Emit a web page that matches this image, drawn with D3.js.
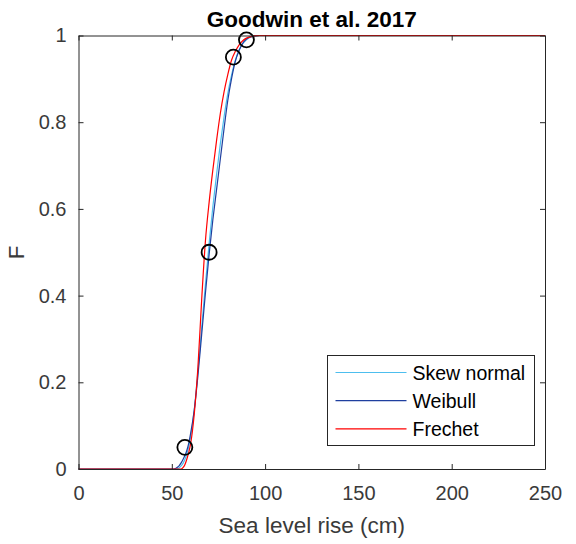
<!DOCTYPE html>
<html>
<head>
<meta charset="utf-8">
<script src="https://cdn.jsdelivr.net/npm/d3@7"></script>
<style>
  html, body { margin: 0; padding: 0; background: #fff; }
  svg { display: block; font-family: "Liberation Sans", Arial, Helvetica, sans-serif; }
</style>
</head>
<body>
<svg id="chart" width="576" height="544"></svg>
<script>
// Sea level rise grid (cm) on which the fitted CDFs are tabulated
const slr = [0, 51, 52, 53, 54, 55, 56, 57, 58, 59, 60, 62, 64, 66, 68, 70, 72, 74, 76, 78, 80, 82, 84, 86, 88, 90, 93, 97, 100, 250];

// Cumulative probability F for each fitted distribution
const skewNormal = [0, 0, 0, 0.001, 0.003, 0.007, 0.013, 0.022, 0.034, 0.05, 0.072, 0.135, 0.225, 0.325, 0.425, 0.52, 0.605, 0.68, 0.75, 0.812, 0.866, 0.908, 0.942, 0.966, 0.981, 0.99, 0.997, 1, 1, 1];
const weibull    = [0, 0, 0.001, 0.004, 0.008, 0.014, 0.022, 0.031, 0.042, 0.058, 0.08, 0.135, 0.215, 0.31, 0.405, 0.495, 0.575, 0.645, 0.715, 0.785, 0.85, 0.9, 0.94, 0.965, 0.982, 0.992, 0.998, 1, 1, 1];
const frechet    = [0, 0, 0, 0, 0, 0, 0.003, 0.01, 0.022, 0.037, 0.056, 0.125, 0.235, 0.39, 0.525, 0.615, 0.69, 0.758, 0.82, 0.87, 0.91, 0.943, 0.963, 0.978, 0.988, 0.994, 0.998, 1, 1, 1];

// Published quantiles the distributions are fitted to
const quantileSLR = [57, 70, 83, 90];
const quantileF   = [0.05, 0.5, 0.95, 0.99];

const seriesNames  = ["Skew normal", "Weibull", "Frechet"];
const seriesColors = ["#4dbeee", "#1f3f9f", "#ff0000"];
const seriesValues = [skewNormal, weibull, frechet];

const xTicks = [0, 50, 100, 150, 200, 250];
const yTicks = [0, 0.2, 0.4, 0.6, 0.8, 1];

const titleText = "Goodwin et al. 2017";
const xLabel = "Sea level rise (cm)";
const yLabel = "F";

const margin = { left: 78.5, top: 35.5, right: 31, bottom: 75 };
const W = 576, H = 544;
const svg = d3.select("#chart");

const x = d3.scaleLinear().domain([0, 250]).range([margin.left, W - margin.right]);
const y = d3.scaleLinear().domain([0, 1]).range([H - margin.bottom, margin.top]);

const axisColor = "#262626";
const labelColor = "#3a3a3a";

// Curves
const line = d3.line()
  .x(d => x(d[0]))
  .y(d => y(d[1]))
  .curve(d3.curveMonotoneX);

const plot = svg.append("g");
seriesValues.forEach((vals, i) => {
  plot.append("path")
    .datum(slr.map((s, k) => [s, vals[k]]))
    .attr("fill", "none")
    .attr("stroke", seriesColors[i])
    .attr("stroke-width", 1.2)
    .attr("d", line);
});

// Quantile markers
plot.selectAll("circle.q")
  .data(quantileSLR.map((s, k) => [s, quantileF[k]]))
  .join("circle")
  .attr("class", "q")
  .attr("cx", d => x(d[0]))
  .attr("cy", d => y(d[1]))
  .attr("r", 7.5)
  .attr("fill", "none")
  .attr("stroke", "#000")
  .attr("stroke-width", 1.8);

// Axes (box with inward ticks)
function styleAxis(g, showLabels) {
  g.select(".domain").attr("stroke", axisColor).attr("stroke-width", 1);
  g.selectAll(".tick line").attr("stroke", axisColor).attr("stroke-width", 1);
  g.selectAll(".tick text")
    .attr("fill", labelColor)
    .style("font-size", "20px")
    .style("font-family", "'Liberation Sans', Arial, Helvetica, sans-serif");
  if (!showLabels) g.selectAll(".tick text").remove();
}

svg.append("g")
  .attr("transform", `translate(0,${y(0)})`)
  .call(d3.axisBottom(x).tickValues(xTicks).tickFormat(d3.format("d")).tickSize(-5).tickSizeOuter(0).tickPadding(17))
  .call(g => styleAxis(g, true));
svg.append("g")
  .attr("transform", `translate(0,${y(1)})`)
  .call(d3.axisTop(x).tickValues(xTicks).tickSize(-5).tickSizeOuter(0))
  .call(g => styleAxis(g, false));
svg.append("g")
  .attr("transform", `translate(${x(0)},0)`)
  .call(d3.axisLeft(y).tickValues(yTicks).tickFormat(d => d === 0 || d === 1 ? d3.format("d")(d) : d3.format(".1f")(d)).tickSize(-5).tickSizeOuter(0).tickPadding(12))
  .call(g => styleAxis(g, true));
svg.append("g")
  .attr("transform", `translate(${x(250)},0)`)
  .call(d3.axisRight(y).tickValues(yTicks).tickSize(-5).tickSizeOuter(0))
  .call(g => styleAxis(g, false));

// Title and axis labels
svg.append("text")
  .attr("x", (x(0) + x(250)) / 2)
  .attr("y", 27)
  .attr("text-anchor", "middle")
  .attr("font-weight", "bold")
  .attr("font-size", 22.5)
  .attr("fill", "#000")
  .text(titleText);

svg.append("text")
  .attr("x", (x(0) + x(250)) / 2)
  .attr("y", 533)
  .attr("text-anchor", "middle")
  .attr("font-size", 22.5)
  .attr("fill", labelColor)
  .text(xLabel);

svg.append("text")
  .attr("transform", `translate(24,${(y(0) + y(1)) / 2}) rotate(-90)`)
  .attr("text-anchor", "middle")
  .attr("font-size", 22.5)
  .attr("fill", labelColor)
  .text(yLabel);

// Legend
const lg = svg.append("g");
const lgX = 327.5, lgY = 355.5, lgW = 207, lgH = 90;
lg.append("rect")
  .attr("x", lgX).attr("y", lgY).attr("width", lgW).attr("height", lgH)
  .attr("fill", "#fff").attr("stroke", axisColor).attr("stroke-width", 1);
seriesNames.forEach((name, i) => {
  const ry = 372.5 + i * 28.2;
  lg.append("line")
    .attr("x1", 335.5).attr("x2", 406.5)
    .attr("y1", ry).attr("y2", ry)
    .attr("stroke", seriesColors[i]).attr("stroke-width", 1.2);
  lg.append("text")
    .attr("x", 412.5).attr("y", ry + 7)
    .attr("font-size", 19.5)
    .attr("fill", "#000")
    .text(name);
});
</script>
</body>
</html>
